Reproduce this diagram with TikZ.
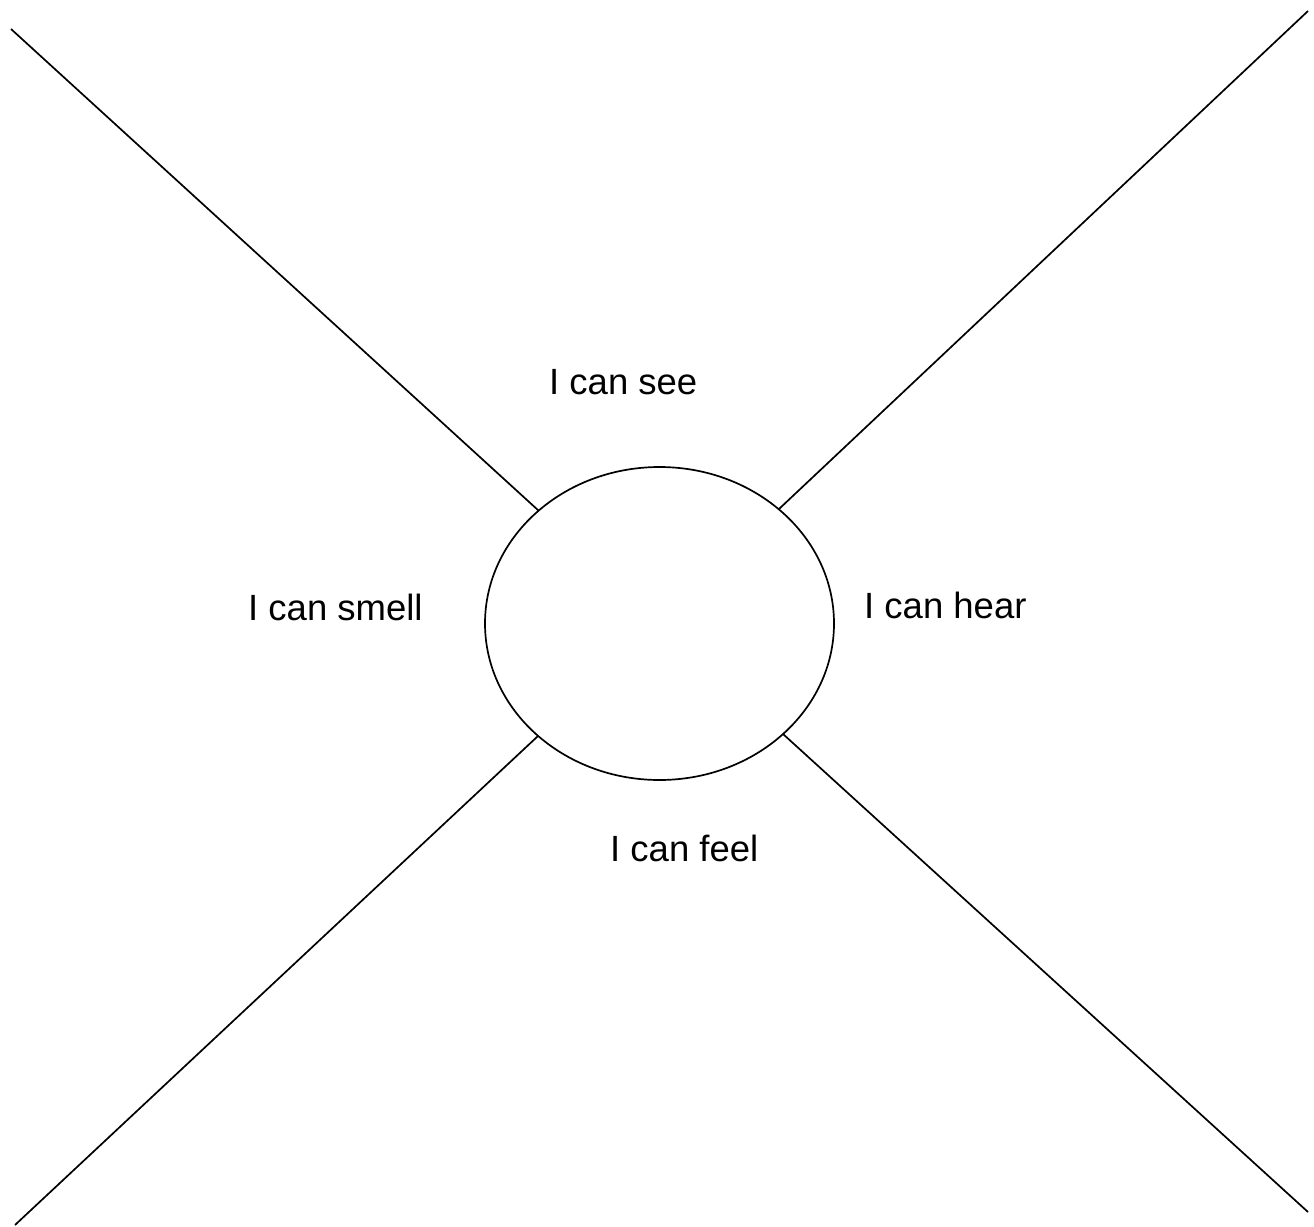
\documentclass[tikz,border=0pt]{standalone}
\usepackage{fontspec}
\setmainfont{Liberation Sans}
\usetikzlibrary{shapes.geometric}
\begin{document}
\begin{tikzpicture}[x=1pt,y=-1pt,
  ln/.style={line width=1.7pt,black},
  lbl/.style={anchor=base west,inner sep=0pt,font=\fontsize{36.5}{44}\selectfont}]
\useasboundingbox (0,0) rectangle (1314,1226);
\node[ellipse,draw,line width=1.7pt,minimum width=349pt,minimum height=313pt,inner sep=0pt] (c) at (659.5,623.5) {};
\coordinate (tl) at (11,29);   \coordinate (tlc) at (539,511);
\coordinate (tr) at (1308,11); \coordinate (trc) at (779,509);
\coordinate (bl) at (15,1225); \coordinate (blc) at (538,736);
\coordinate (br) at (1308,1212); \coordinate (brc) at (783,734);
\draw[ln] (tl) -- (tlc);
\draw[ln] (tr) -- (trc);
\draw[ln] (bl) -- (blc);
\draw[ln] (br) -- (brc);
\node[lbl] (see) at (549,394) {I can see};
\node[lbl] (smell) at (248,620) {I can smell};
\node[lbl] (hear) at (864,618) {I can hear};
\node[lbl] (feel) at (610,861) {I can feel};
\end{tikzpicture}
\end{document}
